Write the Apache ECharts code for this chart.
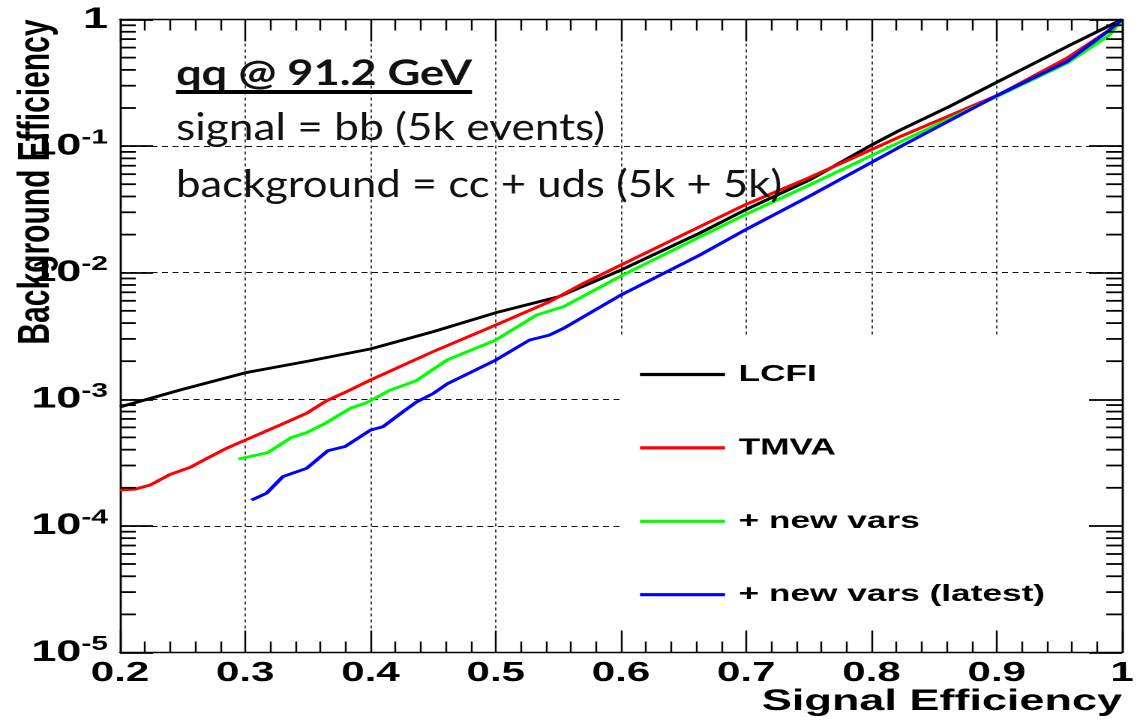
<!DOCTYPE html>
<html>
<head>
<meta charset="utf-8">
<title>Background vs signal efficiency</title>
<script src="https://cdn.jsdelivr.net/npm/echarts@6.0.0/dist/echarts.min.js"></script>
<style>
  html, body { margin: 0; padding: 0; background: #fff; overflow: hidden; }
  #wrap { width: 1137px; height: 720px; overflow: hidden; position: relative; background: #fff; }
  /* the ROOT canvas is shown stretched horizontally, as on the slide */
  #chart { width: 758px; height: 720px; transform: scaleX(1.5); transform-origin: 0 0; }
</style>
</head>
<body>
<div id="wrap"><div id="chart"></div></div>
<script>
// ---------------- data ----------------
const xTickValues = [0.2, 0.3, 0.4, 0.5, 0.6, 0.7, 0.8, 0.9, 1.0];
const xTickLabels = ['0.2', '0.3', '0.4', '0.5', '0.6', '0.7', '0.8', '0.9', '1'];
const yTickValues = [1e-5, 1e-4, 1e-3, 1e-2, 1e-1, 1];
const yTickBase   = ['10', '10', '10', '10', '10', '1'];
const yTickPower  = ['-5', '-4', '-3', '-2', '-1', ''];

const seriesNames  = ['LCFI', 'TMVA', '+ new vars', '+ new vars (latest)'];
const seriesColors = ['#000000', '#ff0000', '#00ff00', '#0000ff'];

const lcfiSigEff = [0.20, 0.25, 0.30, 0.35, 0.40, 0.45, 0.50, 0.55, 0.60, 0.663, 0.70, 0.75, 0.80, 0.823, 0.862, 0.901, 0.956, 1.00];
const lcfiBkgEff = [8.7e-4, 1.2e-3, 1.62e-3, 2.0e-3, 2.5e-3, 3.42e-3, 4.83e-3, 6.45e-3, 1.05e-2, 2.06e-2, 3.16e-2, 5.37e-2, 0.102, 0.134, 0.205, 0.323, 0.61, 1.0];

const tmvaSigEff = [0.20, 0.212, 0.224, 0.24, 0.256, 0.272, 0.285, 0.30, 0.328, 0.349, 0.365, 0.381, 0.40, 0.45, 0.50, 0.543, 0.57, 0.60, 0.663, 0.70, 0.75, 0.823, 0.901, 0.956, 0.99, 1.00];
const tmvaBkgEff = [1.92e-4, 1.95e-4, 2.10e-4, 2.55e-4, 2.90e-4, 3.52e-4, 4.10e-4, 4.76e-4, 6.27e-4, 7.76e-4, 9.75e-4, 1.15e-3, 1.42e-3, 2.38e-3, 3.86e-3, 5.90e-3, 8.24e-3, 1.15e-2, 2.31e-2, 3.47e-2, 5.62e-2, 0.119, 0.253, 0.494, 0.826, 1.0];

const newVarsSigEff = [0.2945, 0.318, 0.337, 0.349, 0.364, 0.384, 0.397, 0.4156, 0.4275, 0.437, 0.461, 0.50, 0.5327, 0.554, 0.60, 0.663, 0.70, 0.75, 0.823, 0.901, 0.956, 0.99, 1.00];
const newVarsBkgEff = [3.37e-4, 3.79e-4, 5.0e-4, 5.45e-4, 6.46e-4, 8.5e-4, 9.4e-4, 1.18e-3, 1.30e-3, 1.41e-3, 2.04e-3, 2.94e-3, 4.63e-3, 5.38e-3, 9.42e-3, 1.92e-2, 2.9e-2, 4.9e-2, 0.108, 0.249, 0.451, 0.755, 1.0];

const latestSigEff = [0.305, 0.317, 0.330, 0.349, 0.366, 0.3796, 0.40, 0.41, 0.426, 0.437, 0.45, 0.461, 0.50, 0.527, 0.543, 0.554, 0.60, 0.663, 0.70, 0.75, 0.823, 0.901, 0.956, 0.99, 1.00];
const latestBkgEff = [1.60e-4, 1.81e-4, 2.45e-4, 2.85e-4, 3.93e-4, 4.23e-4, 5.71e-4, 6.08e-4, 7.98e-4, 9.57e-4, 1.11e-3, 1.32e-3, 2.04e-3, 2.94e-3, 3.22e-3, 3.63e-3, 6.67e-3, 1.38e-2, 2.2e-2, 4.0e-2, 9.9e-2, 0.253, 0.464, 0.826, 1.0];

const noteTitle = 'qq @ 91.2 GeV';
const noteLines = ['signal = bb (5k events)', 'background = cc + uds (5k + 5k)'];
const xTitle = 'Signal Efficiency';
const yTitle = 'Background Efficiency';

// ---------------- layout ----------------
const S = 1.5;                       // horizontal stretch applied by CSS
const CHART_W = 1137 / S;
const CHART_H = 720;
const GRID = { left: 80, right: CHART_W - 1122 / S, top: 19.5, bottom: CHART_H - 652.5 };
const X_MIN = 0.2, X_MAX = 1.0;
const MAJOR_Y_LEN = 22, MINOR_Y_LEN = 10.5;
const FONT = '"Liberation Sans", Arial, Helvetica, sans-serif';
const NOTE_FONT = 'Lato, "Open Sans", sans-serif';

// minor ticks of the log axis: 2..9 in every decade
const yMinorTicks = [];
for (let d = -5; d < 0; d++) {
  for (let k = 2; k <= 9; k++) yMinorTicks.push(k * Math.pow(10, d));
}

function pairs(xs, ys) { return xs.map((x, i) => [x, ys[i]]); }
const curves = [
  pairs(lcfiSigEff, lcfiBkgEff),
  pairs(tmvaSigEff, tmvaBkgEff),
  pairs(newVarsSigEff, newVarsBkgEff),
  pairs(latestSigEff, latestBkgEff)
];

function xLabel(v) {
  const i = xTickValues.findIndex(t => Math.abs(t - v) < 1e-6);
  return i >= 0 ? xTickLabels[i] : '';
}
function yLabel(v) {
  const i = yTickValues.findIndex(t => Math.abs(Math.log10(t) - Math.log10(v)) < 1e-6);
  if (i < 0) return '';
  return yTickPower[i] ? '{b|' + yTickBase[i] + '}{e|' + yTickPower[i] + '}' : '{b|' + yTickBase[i] + '}';
}

const chart = echarts.init(document.getElementById('chart'), null, {
  renderer: 'canvas', width: CHART_W, height: CHART_H, devicePixelRatio: 2
});

const tickLine = { color: '#000', width: 1.2 };
const yTickLine = { color: '#000', width: 1.8 };

const option = {
  backgroundColor: '#ffffff',
  animation: false,
  grid: Object.assign({ containLabel: false, outerBoundsMode: 'none' }, GRID),
  xAxis: [
    { // bottom axis with labels and title
      type: 'value', position: 'bottom', min: X_MIN, max: X_MAX, interval: 0.1, z: 3,
      axisLine: { show: true, lineStyle: { color: '#000', width: 1.4 } },
      axisTick: { show: true, inside: true, length: 22, lineStyle: tickLine },
      minorTick: { show: true, splitNumber: 5, length: 11, lineStyle: tickLine },
      splitLine: { show: false },
      axisLabel: {
        formatter: xLabel, showMinLabel: true, showMaxLabel: true, margin: 7,
        fontSize: 28, fontWeight: 'bold', fontFamily: FONT, color: '#000'
      },
      name: xTitle, nameLocation: 'end', nameGap: 0, nameMoveOverlap: false,
      nameTextStyle: {
        align: 'right', verticalAlign: 'top', padding: [34, 0, 0, 0],
        fontSize: 30, fontWeight: 'bold', fontFamily: FONT, color: '#000'
      }
    },
    { // top axis: ticks and the vertical grid
      type: 'value', position: 'top', min: X_MIN, max: X_MAX, interval: 0.1, z: 0,
      axisLine: { show: true, lineStyle: { color: '#000', width: 1.4 } },
      axisTick: { show: true, inside: true, length: 22, lineStyle: tickLine },
      minorTick: { show: true, splitNumber: 5, length: 11, lineStyle: tickLine },
      axisLabel: { show: false },
      splitLine: {
        show: true, showMinLine: false, showMaxLine: false,
        lineStyle: { color: '#111', width: 0.8, type: [3, 3] }
      }
    }
  ],
  yAxis: [
    { // left log axis with labels and the horizontal grid
      type: 'log', logBase: 10, min: 1e-5, max: 1, position: 'left', z: 0,
      axisLine: { show: true, lineStyle: { color: '#000', width: 1.4 } },
      axisTick: { show: true, inside: true, length: MAJOR_Y_LEN, lineStyle: yTickLine },
      minorTick: { show: false },
      axisLabel: {
        formatter: yLabel, margin: 8, showMinLabel: true, showMaxLabel: true,
        rich: {
          b: { fontSize: 30, fontWeight: 'bold', fontFamily: FONT, color: '#000', lineHeight: 36 },
          e: { fontSize: 20, fontWeight: 'bold', fontFamily: FONT, color: '#000', lineHeight: 18, verticalAlign: 'top' }
        }
      },
      splitLine: {
        show: true, showMinLine: false, showMaxLine: false,
        lineStyle: { color: '#111', width: 1, type: [4, 3] }
      }
    },
    { // right log axis: ticks only
      type: 'log', logBase: 10, min: 1e-5, max: 1, position: 'right', z: 3,
      axisLine: { show: true, lineStyle: { color: '#000', width: 1.4 } },
      axisTick: { show: true, inside: true, length: MAJOR_Y_LEN, lineStyle: yTickLine },
      minorTick: { show: false },
      axisLabel: { show: false },
      splitLine: { show: false }
    }
  ],
  legend: {
    orient: 'vertical',
    left: 640 / S, top: 362, padding: 0,
    itemWidth: 85 / S, itemHeight: 3.2, itemGap: 48.4,
    icon: 'rect',
    selectedMode: false,
    textStyle: { fontSize: 23.5, fontWeight: 'bold', fontFamily: FONT, color: '#000', lineHeight: 25, padding: [0, 0, 0, 4] },
    data: seriesNames
  },
  series: seriesNames.map((n, i) => ({
    name: n, type: 'line', data: curves[i], xAxisIndex: 0, yAxisIndex: 0,
    showSymbol: false, symbol: 'none', smooth: false, z: 2,
    lineStyle: { color: seriesColors[i], width: 2.8 },
    itemStyle: { color: seriesColors[i] }
  })).concat([{
    type: 'custom', coordinateSystem: 'cartesian2d', xAxisIndex: 0, yAxisIndex: 0,
    data: yMinorTicks.map(v => [X_MIN, v]), silent: true, clip: false, z: 4,
    renderItem: function (params, api) {
      const v = api.value(1);
      const pl = api.coord([X_MIN, v]);
      const pr = api.coord([X_MAX, v]);
      const st = { stroke: '#000', lineWidth: 1.8 };
      return {
        type: 'group', children: [
          { type: 'line', shape: { x1: pl[0], y1: pl[1], x2: pl[0] + MINOR_Y_LEN, y2: pl[1] }, style: st },
          { type: 'line', shape: { x1: pr[0] - MINOR_Y_LEN, y1: pr[1], x2: pr[0], y2: pr[1] }, style: st }
        ]
      };
    }
  }])
};
chart.setOption(option);

// ---------- annotations: legend backdrop, axis title, slide text ----------
const boxTL = chart.convertToPixel({ xAxisIndex: 0, yAxisIndex: 0 }, [0.6, 1]);
const boxBR = chart.convertToPixel({ xAxisIndex: 0, yAxisIndex: 0 }, [X_MAX, 1e-5]);
const boxTop = 335;

const measureCtx = document.createElement('canvas').getContext('2d');
function textWidth(str, font) { measureCtx.font = font; return measureCtx.measureText(str).width; }

// widths (on screen) and baselines of the slide text lines
const noteSpecs = [
  { text: noteTitle, size: 35, weight: 'bold', left: 176, width: 296, baseline: 85 },
  { text: noteLines[0], size: 38, weight: 'normal', left: 176, width: 429, baseline: 140 },
  { text: noteLines[1], size: 38, weight: 'normal', left: 176, width: 606, baseline: 197 }
];

const graphics = [
  {
    type: 'rect', z: 1, silent: true,
    shape: { x: boxTL[0], y: boxTop, width: boxBR[0] - boxTL[0], height: boxBR[1] - boxTop },
    style: { fill: '#ffffff' }
  },
  {
    type: 'text', z: 6, silent: true, x: 24, y: GRID.top, rotation: Math.PI / 2,
    style: {
      text: yTitle, fontSize: 30, fontWeight: 'bold', fontFamily: FONT, fill: '#000',
      align: 'right', textAlign: 'right', verticalAlign: 'middle', textVerticalAlign: 'middle'
    }
  }
];

noteSpecs.forEach(function (n) {
  const nat = textWidth(n.text, n.weight + ' ' + n.size + 'px ' + NOTE_FONT);
  graphics.push({
    type: 'text', z: 6, silent: true,
    x: n.left / S, y: n.baseline - 0.32 * n.size,
    scaleX: (n.width / nat) / S, scaleY: 1,
    style: {
      text: n.text, fontSize: n.size, fontWeight: n.weight, fontFamily: NOTE_FONT, fill: '#111',
      align: 'left', textAlign: 'left', verticalAlign: 'middle', textVerticalAlign: 'middle'
    }
  });
});
// underline of the heading
graphics.push({
  type: 'rect', z: 6, silent: true,
  shape: { x: 176 / S, y: 90, width: 296 / S, height: 4 },
  style: { fill: '#000' }
});

chart.setOption({ graphic: graphics });
</script>
</body>
</html>
